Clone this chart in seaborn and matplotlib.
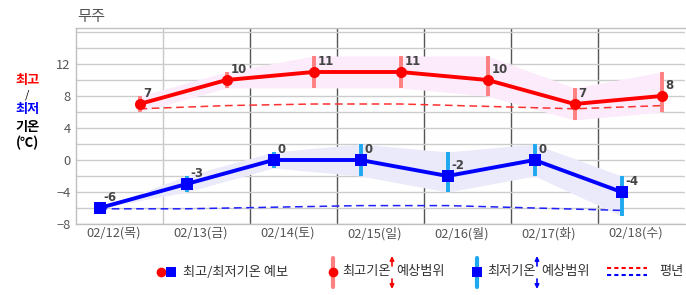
import numpy as np
import matplotlib
matplotlib.use('Agg')
import matplotlib.pyplot as plt
import seaborn as sns
from matplotlib.ticker import MultipleLocator, FixedLocator
from matplotlib.transforms import ScaledTranslation

# ---------------- data ----------------
station = '무주'
days = ['02/12(목)', '02/13(금)', '02/14(토)', '02/15(일)', '02/16(월)', '02/17(화)', '02/18(수)']
tmax = [7, 10, 11, 11, 10, 7, 8]
tmax_lo = [6, 9, 9, 9, 8, 5, 6]
tmax_hi = [8, 11, 13, 13, 13, 9, 11]
tmin = [-6, -3, 0, 0, -2, 0, -4]
tmin_lo = [-6, -4, -1, -2, -4, -2, -7]
tmin_hi = [-6, -2, 1, 2, 1, 2, -2]
norm_max = [6.4, 6.8, 7.0, 7.0, 6.7, 6.4, 6.8]
norm_min = [-6.1, -6.1, -5.9, -5.7, -5.7, -6.0, -6.3]
ytick_vals = [-8, -4, 0, 4, 8, 12]

sns.set_theme(style='white')
plt.rcParams['font.family'] = ['Noto Sans CJK KR', 'DejaVu Sans']
plt.rcParams['axes.unicode_minus'] = True

W, H = 686, 295
fig = plt.figure(figsize=(W / 100, H / 100), dpi=100)
ax = fig.add_axes([76 / W, 1 - 224 / H, 609 / W, 196 / H])

n = len(days)
xc = np.arange(n) + 0.5
off = 20 / 87
xmax = xc + off
xmin = xc - off

# bands
ax.fill_between(xmax, tmax_lo, tmax_hi, color='#FCEBFB', lw=0, zorder=1)
ax.fill_between(xmin, tmin_lo, tmin_hi, color='#EAEAFA', lw=0, zorder=1)

# normals
sns.lineplot(x=xmax, y=norm_max, ax=ax, color='#FF3030', lw=1.1,
             linestyle=(0, (5, 3)), zorder=2, sort=False)
sns.lineplot(x=xmin, y=norm_min, ax=ax, color='#2020FF', lw=1.1,
             linestyle=(0, (5, 3)), zorder=2, sort=False)

# range bars
ax.vlines(xmax, tmax_lo, tmax_hi, color='#FF8080', lw=2.8, zorder=3)
ax.vlines(xmin, tmin_lo, tmin_hi, color='#1EA8F0', lw=2.8, zorder=3)

# main lines
sns.lineplot(x=xmax, y=tmax, ax=ax, color='#FF0000', lw=2.8, zorder=4, sort=False)
sns.lineplot(x=xmin, y=tmin, ax=ax, color='#0000FF', lw=2.8, zorder=4, sort=False)
ax.plot(xmax, tmax, 'o', color='#FF0000', ms=8, mew=0, zorder=5)
ax.plot(xmin, tmin, 's', color='#0000FF', ms=8, mew=0, zorder=5)

for x, v in zip(xmax, tmax):
    ax.annotate(f'{v}', (x, v), xytext=(3, 3), textcoords='offset points',
                ha='left', va='bottom', fontsize=8.5, fontweight='bold',
                color='#444444', zorder=6, family=['DejaVu Sans'])
for x, v in zip(xmin, tmin):
    ax.annotate(f'{v}', (x, v), xytext=(3, 3), textcoords='offset points',
                ha='left', va='bottom', fontsize=8.5, fontweight='bold',
                color='#444444', zorder=6, family=['DejaVu Sans'])

# axes styling
ax.set_xlim(0, n)
ax.set_ylim(-8, 16.5)
ax.set_xlabel('')
ax.set_ylabel('')
ax.yaxis.set_major_locator(FixedLocator(ytick_vals))
ax.yaxis.set_minor_locator(MultipleLocator(2))
ax.grid(axis='y', which='both', color='#CCCCCC', lw=1)
ax.set_axisbelow(True)
for i in range(1, n):
    ax.axvline(i, color='#C8C8C8' if i == 1 else '#555555', lw=1, zorder=0.5)
ax.set_xticks(xc)
ax.set_xticklabels(days)
ax.tick_params(axis='both', length=0, colors='#555555', labelsize=9.3)
ax.tick_params(axis='x', pad=2)
ax.tick_params(axis='y', pad=4)
for lab in ax.get_xticklabels():
    lab.set_transform(lab.get_transform() + ScaledTranslation(-6 / 100, 0, fig.dpi_scale_trans))
for s in ['left', 'top', 'bottom']:
    ax.spines[s].set_color('#C0C0C0')
    ax.spines[s].set_linewidth(1)
ax.spines['right'].set_visible(False)

# title
fig.text(77 / W, 1 - 16 / H, station, color='#555555', fontsize=11, va='center', ha='left')

# left y label
lx = 27.5 / W
fig.text(lx, 1 - 80 / H, '최고', color='#FF0000', fontsize=9.5, fontweight='bold', ha='center', va='center')
fig.text(lx, 1 - 95 / H, '/', color='#000000', fontsize=8, ha='center', va='center')
fig.text(lx, 1 - 109 / H, '최저', color='#0000FF', fontsize=9.5, fontweight='bold', ha='center', va='center')
fig.text(lx, 1 - 127 / H, '기온', color='#000000', fontsize=9.5, fontweight='bold', ha='center', va='center')
fig.text(lx, 1 - 143 / H, '(℃)', color='#000000', fontsize=9.5, fontweight='bold', ha='center', va='center')

# legend (pixel coordinate overlay)
lax = fig.add_axes([0, 0, 1, 1])
lax.set_xlim(0, W)
lax.set_ylim(H, 0)
lax.axis('off')
lax.patch.set_visible(False)
ly = 272
tc = '#333333'
fs = 9.5
lax.plot([161], [ly], 'o', color='#FF0000', ms=7, mew=0)
lax.plot([171], [ly], 's', color='#0000FF', ms=7, mew=0)
lax.text(183, ly, '최고/최저기온 예보', fontsize=fs, color=tc, va='center', ha='left')

lax.plot([333, 333], [258, 287], color='#FF8080', lw=3)
lax.plot([333], [ly], 'o', color='#FF0000', ms=7, mew=0)
lax.text(342, ly, '최고기온', fontsize=fs, color=tc, va='center', ha='left')
for y0, y1 in [(266, 256), (279, 289)]:
    lax.annotate('', xy=(392, y1), xytext=(392, y0),
                 arrowprops=dict(arrowstyle='-|>', color='#FF0000', lw=1.2, mutation_scale=6,
                                 shrinkA=0, shrinkB=0))
lax.text(396, ly, '예상범위', fontsize=fs, color=tc, va='center', ha='left')

lax.plot([477, 477], [258, 287], color='#1EA8F0', lw=3)
lax.plot([477], [ly], 's', color='#0000FF', ms=7, mew=0)
lax.text(487, ly, '최저기온', fontsize=fs, color=tc, va='center', ha='left')
for y0, y1 in [(266, 256), (279, 289)]:
    lax.annotate('', xy=(537, y1), xytext=(537, y0),
                 arrowprops=dict(arrowstyle='-|>', color='#0000FF', lw=1.2, mutation_scale=6,
                                 shrinkA=0, shrinkB=0))
lax.text(541, ly, '예상범위', fontsize=fs, color=tc, va='center', ha='left')

lax.plot([607, 647], [268, 268], color='#FF0000', lw=1.5, linestyle=(0, (2, 1.5)))
lax.plot([607, 647], [275, 275], color='#0000FF', lw=1.5, linestyle=(0, (2, 1.5)))
lax.text(659, ly, '평년', fontsize=fs, color=tc, va='center', ha='left')

fig.savefig('out.png', dpi=100)
